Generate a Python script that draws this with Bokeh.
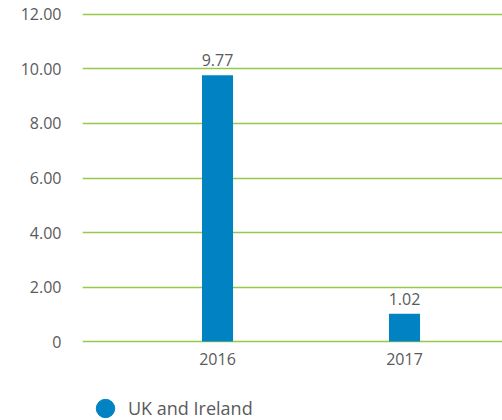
from bokeh.plotting import figure
from bokeh.layouts import column
from bokeh.core.properties import value
from bokeh.models import (ColumnDataSource, Range1d, FixedTicker,
                          LabelSet, Legend, LegendItem)
from bokeh.embed import file_html
from bokeh.resources import INLINE

years = [2016, 2017]
year_labels = ["2016", "2017"]
values = [9.77, 1.02]
value_labels = ["9.77", "1.02"]
series_name = "UK and Ireland"
y_ticks = [0, 2, 4, 6, 8, 10, 12]
y_tick_labels = ["0", "2.00", "4.00", "6.00", "8.00", "10.00", "12.00"]

FONT = "Open Sans"
TEXT = "#5a5a5c"
BLUE = "#0082c3"
GREEN = "#95c94a"

source = ColumnDataSource(data=dict(x=years, top=values, label=value_labels))

p = figure(width=502, height=385, output_backend="svg", toolbar_location=None,
           x_range=Range1d(2015.278, 2017.524),
           y_range=Range1d(-0.11, 12.11),
           min_border_left=82, min_border_right=0, min_border_top=11,
           min_border_bottom=41)
p.outline_line_color = None
p.background_fill_color = "white"
p.border_fill_color = "white"

bars = p.vbar(x="x", top="top", width=0.166, source=source, color=BLUE,
              line_color=None)

labels = LabelSet(x="x", y="top", text="label", source=source, y_offset=9,
                  text_align="center", text_baseline="alphabetic",
                  text_font=value(FONT), text_font_size=value("16px"),
                  text_color=TEXT)
p.add_layout(labels)

p.xgrid.grid_line_color = None
p.ygrid.grid_line_color = GREEN
p.ygrid.grid_line_width = 1.5
p.ygrid.ticker = FixedTicker(ticks=y_ticks)

p.xaxis.ticker = FixedTicker(ticks=years)
p.xaxis.major_label_overrides = {y: l for y, l in zip(years, year_labels)}
p.yaxis.ticker = FixedTicker(ticks=y_ticks)
p.yaxis.major_label_overrides = {t: l for t, l in zip(y_ticks, y_tick_labels)}
for ax in (p.xaxis[0], p.yaxis[0]):
    ax.axis_line_color = None
    ax.major_tick_line_color = None
    ax.minor_tick_line_color = None
    ax.major_tick_out = 0
    ax.major_tick_in = 0
    ax.major_label_text_font = FONT
    ax.major_label_text_font_size = "16px"
    ax.major_label_text_color = TEXT
p.yaxis.major_label_standoff = 21
p.xaxis.major_label_standoff = 8

# legend strip below the chart
lg = figure(width=502, height=35, output_backend="svg", toolbar_location=None,
            x_range=Range1d(0, 1), y_range=Range1d(0, 1),
            x_axis_type=None, y_axis_type=None,
            min_border_left=63, min_border_right=0, min_border_top=0,
            min_border_bottom=0)
lg.outline_line_color = None
lg.xgrid.visible = False
lg.ygrid.visible = False
dot = lg.scatter(x=[5], y=[5], marker="circle", size=18, color=BLUE)
legend = Legend(items=[LegendItem(label=series_name, renderers=[dot])],
                location="top_left", orientation="horizontal",
                glyph_width=46, glyph_height=46, padding=0, margin=0,
                spacing=0, label_standoff=0,
                label_text_font=FONT, label_text_font_size="18px",
                label_text_color=TEXT, border_line_color=None,
                background_fill_alpha=0)
lg.add_layout(legend, "center")

layout = column(p, lg, spacing=0)
open("out.html", "w").write(file_html(layout, INLINE))
